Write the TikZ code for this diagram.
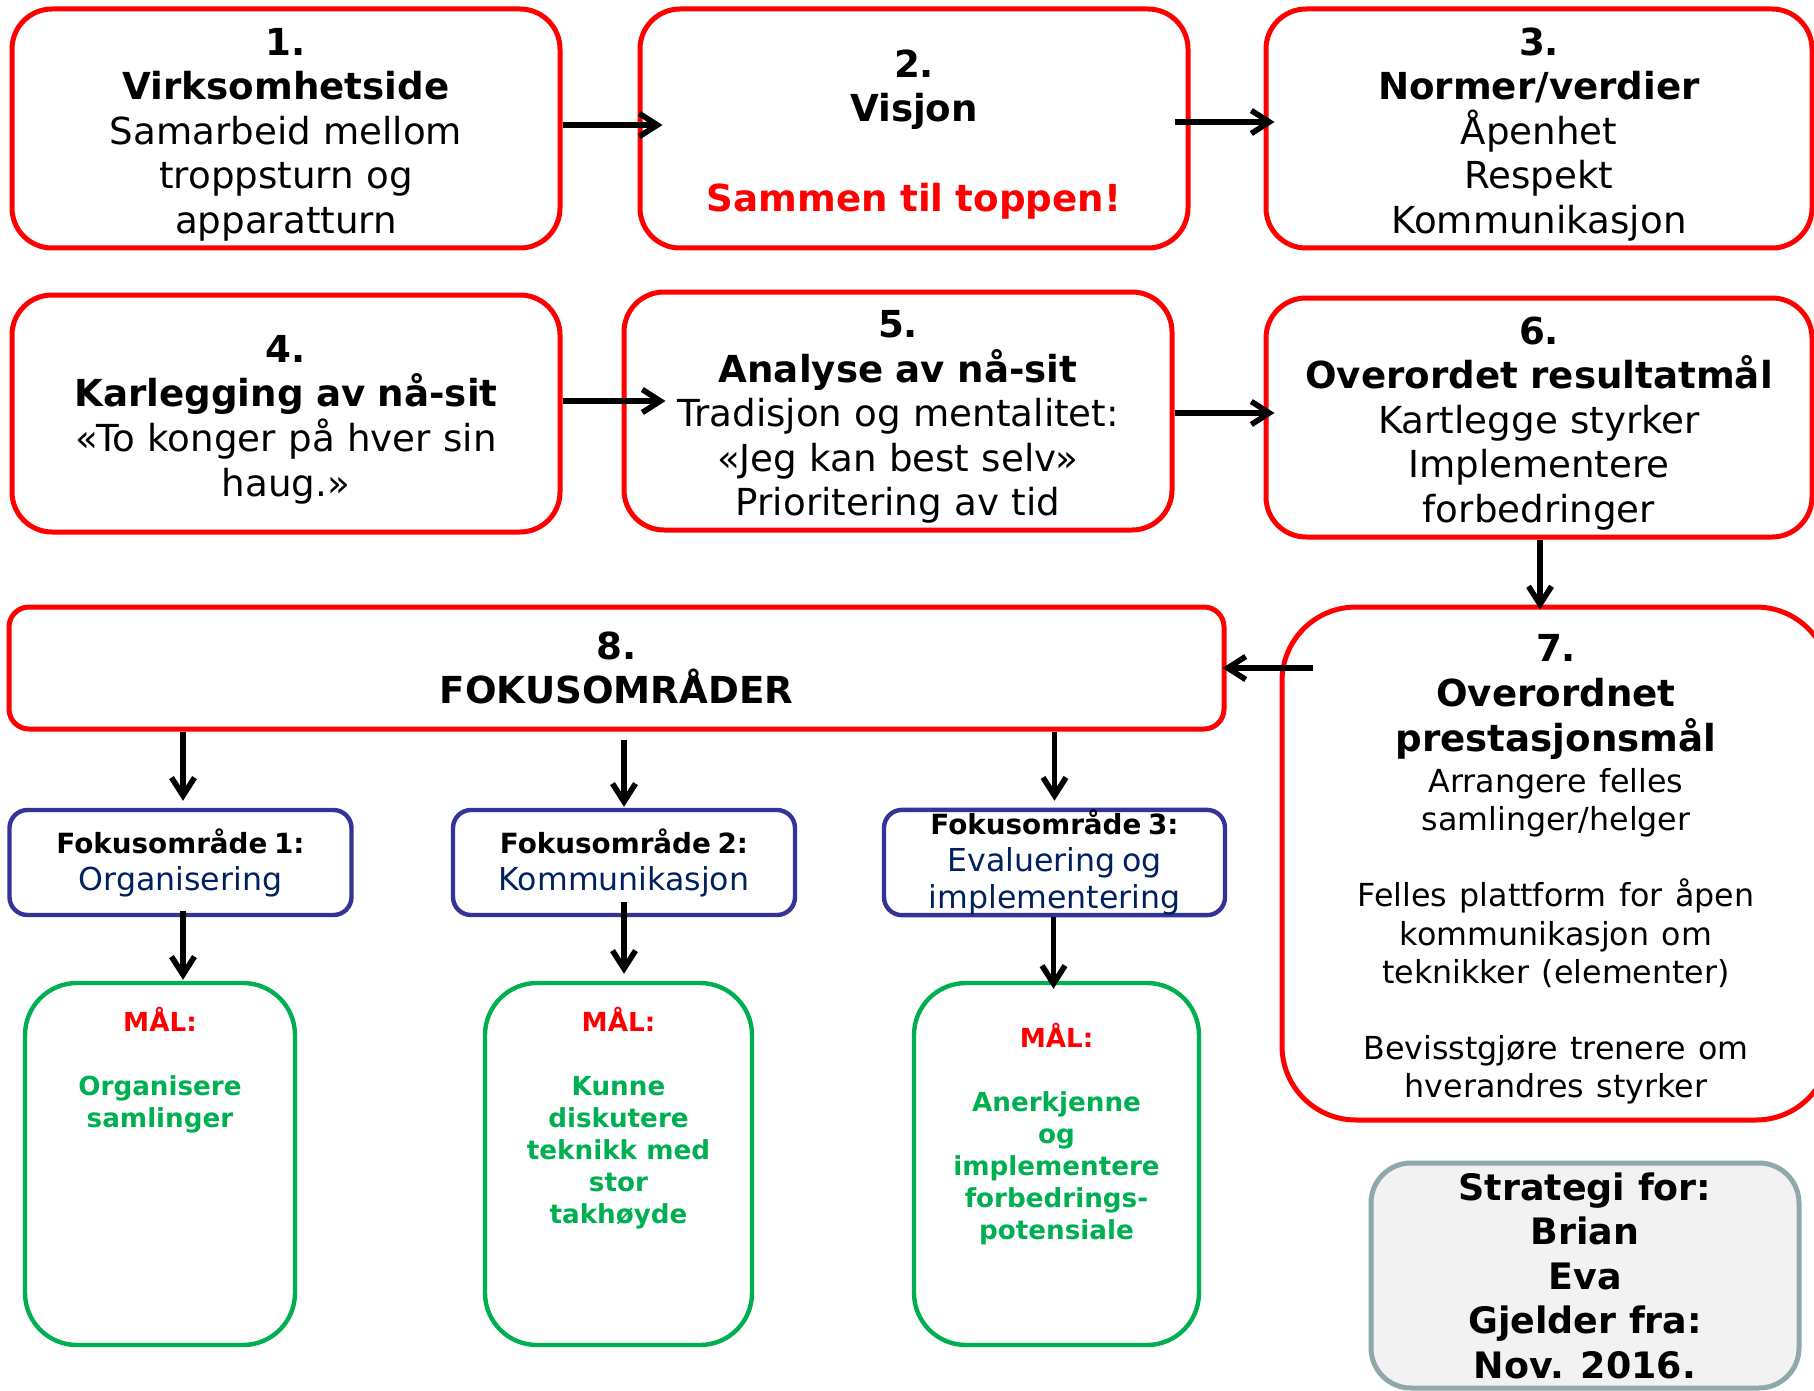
\documentclass[tikz,border=0pt]{standalone}
\usepackage{fontspec}
\setmainfont{DejaVu Sans}
\usetikzlibrary{arrows.meta,calc}
\definecolor{boxred}{RGB}{255,0,0}
\definecolor{fokblue}{RGB}{51,51,153}
\definecolor{foktext}{RGB}{0,32,96}
\definecolor{malgreen}{RGB}{0,176,80}
\definecolor{stratgray}{RGB}{143,168,170}
\definecolor{stratfill}{RGB}{242,242,242}
% invisible strut that makes the first line taller, lowering the text block
\newcommand\stepgap{\rule{0pt}{19.6pt}}
\begin{document}
\begin{tikzpicture}[x=0.5pt,y=-0.5pt,
  stepbox/.style={draw=boxred, line width=2.5pt, rounded corners=20pt,
    inner sep=0pt, align=center, text width=262pt,
    minimum width=274pt, minimum height=119.5pt,
    font=\fontsize{18.6}{22.3}\selectfont},
  fokbox/.style={draw=fokblue, line width=2.2pt, rounded corners=9pt,
    inner sep=0pt, align=center, text width=165pt,
    minimum width=171pt, minimum height=52.5pt},
  malbox/.style={draw=malgreen, line width=2.2pt, rounded corners=26pt,
    inner sep=0pt, minimum height=181pt},
  maltext/.style={text=malgreen, align=center, inner sep=0pt,
    font=\bfseries\fontsize{13.1}{16}\selectfont},
  stratbox/.style={draw=stratgray, fill=stratfill, line width=2.5pt,
    rounded corners=20pt, inner sep=0pt, align=center,
    minimum width=214pt, minimum height=112.5pt,
    font=\bfseries\fontsize{18.2}{22.25}\selectfont},
  arr/.style={-{Straight Barb[length=9pt,width=11.5pt]}, line width=2.8pt}]
\useasboundingbox (0,0) rectangle (1814,1391);

% first row
\node[stepbox] (b1) at (286,128.5)
  {\stepgap\textbf{1.}\\\textbf{Virksomhetside}\\Samarbeid mellom\\troppsturn og\\apparatturn};
\node[stepbox] (b2) at (914,128.5)
  {\stepgap\textbf{2.}\\\textbf{Visjon}\\[22.3pt]{\color{boxred}\textbf{Sammen til toppen!}}};
\node[stepbox, minimum width=273pt] (b3) at (1539,128.5)
  {\stepgap\textbf{3.}\\\textbf{Normer/verdier}\\Åpenhet\\Respekt\\Kommunikasjon};

% second row
\node[stepbox, minimum height=118.5pt] (b4) at (286,413.5)
  {\stepgap\textbf{4.}\\\textbf{Karlegging av nå-sit}\\«To konger på hver sin\\haug.»};
\node[stepbox, minimum height=119pt] (b5) at (898,411)
  {\stepgap\textbf{5.}\\\textbf{Analyse av nå-sit}\\Tradisjon og mentalitet:\\«Jeg kan best selv»\\Prioritering av tid};
\node[stepbox, minimum width=273pt] (b6) at (1539,417.5)
  {\stepgap\textbf{6.}\\\textbf{Overordet resultatmål}\\Kartlegge styrker\\Implementere\\forbedringer};

% focus areas and overall goal
\node[stepbox, rounded corners=10pt, minimum width=607.5pt, minimum height=61pt] (b8) at (616.5,668)
  {\textbf{8.}\\\textbf{FOKUSOMRÅDER}};
\node[stepbox, rounded corners=37pt, minimum height=256.5pt] (b7) at (1556,863.5)
  {{\bfseries\stepgap 7.\\Overordnet\\prestasjonsmål\par}
   \vspace{1.5pt}
   {\fontsize{15.85}{19.1}\selectfont Arrangere felles\\samlinger/helger\\[19.1pt]Felles plattform for åpen\\kommunikasjon om\\teknikker (elementer)\\[19.1pt]Bevisstgjøre trenere om\\hverandres styrker\par}};

\node[fokbox] (f1) at (180.5,862.5)
  {{\bfseries\fontsize{13.9}{18.5}\selectfont Fokusområde 1:\par}{\color{foktext}\fontsize{15.8}{18.5}\selectfont Organisering\par}};
\node[fokbox] (f2) at (624,862.5)
  {{\bfseries\fontsize{13.9}{18.5}\selectfont Fokusområde 2:\par}{\color{foktext}\fontsize{15.8}{18.5}\selectfont Kommunikasjon\par}};
\node[fokbox, minimum width=170.5pt] (f3) at (1054.5,862.5)
  {{\bfseries\fontsize{13.9}{16}\selectfont Fokusområde 3:\par}{\color{foktext}\fontsize{15.8}{18.5}\selectfont Evaluering og\\implementering\par}};

% goals
\node[malbox, minimum width=135pt] (g1) at (160,1164) {};
\node[malbox, minimum width=133.5pt] (g2) at (618.5,1164) {};
\node[malbox, minimum width=142.5pt] (g3) at (1056.5,1164) {};
\node[maltext, anchor=north] (t1) at ($(g1.north)+(0,26)$)
  {{\color{boxred}MÅL:}\\[16pt]Organisere\\samlinger};
\node[maltext, anchor=north] (t2) at ($(g2.north)+(0,26)$)
  {{\color{boxred}MÅL:}\\[16pt]Kunne\\diskutere\\teknikk med\\stor\\takhøyde};
\node[maltext, anchor=north] (t3) at ($(g3.north)+(0,42)$)
  {{\color{boxred}MÅL:}\\[16pt]Anerkjenne\\og\\implementere\\forbedrings-\\potensiale};

% owner box
\node[stratbox] (s) at (1585,1275.5)
  {Strategi for:\\Brian\\Eva\\Gjelder fra:\\Nov. 2016.};

% connectors
\draw[arr] ($(b1.east)+(0,-3.5)$) -- ($(b2.west)+(25,-3.5)$);
\draw[arr] ($(b2.east)+(-16,-6.5)$) -- ($(b3.west)+(11,-6.5)$);
\draw[arr] ($(b4.east)+(0,-12.5)$) -- ($(b5.west)+(44,-10)$);
\draw[arr] ($(b5.east)+(0,2)$) -- ($(b6.west)+(11,-4.5)$);
\draw[arr] ($(b6.south)+(1,0)$) -- ($(b7.north -| b6.south)+(1,5)$);
\draw[arr] ($(b8.east -| b7.west)+(33,0)$) -- ($(b8.east)+(-4,0)$);
\draw[arr] ($(b8.south -| f1.north)+(2.5,0)$) -- ($(f1.north)+(2.5,-7)$);
\draw[arr] ($(b8.south -| f2.north)+(0,8)$) -- ($(f2.north)+(0,-1)$);
\draw[arr] ($(b8.south -| f3.north)+(0,0)$) -- ($(f3.north)+(0,-7)$);
\draw[arr] ($(f1.south)+(2.5,-6)$) -- ($(g1.north -| f1.south)+(2.5,-1)$);
\draw[arr] ($(f2.south)+(0,-15)$) -- ($(g2.north -| f2.south)+(0,-7)$);
\draw[arr] ($(f3.south)+(-1,0)$) -- ($(g3.north -| f3.south)+(-1,8)$);
\end{tikzpicture}
\end{document}
